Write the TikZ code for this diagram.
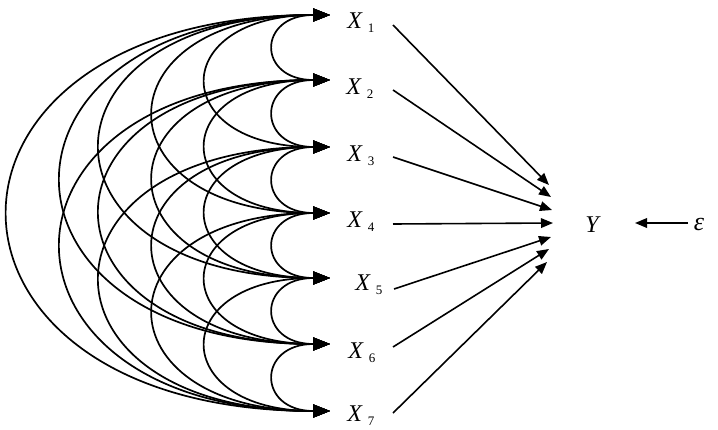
\documentclass[tikz,border=0pt]{standalone}
\usepackage{fontspec}
\setmainfont{Liberation Serif}
\usetikzlibrary{arrows.meta}
\tikzset{
  arcline/.style={line width=0.85pt, {Triangle[length=8.5pt,width=6.5pt]}-{Triangle[length=8.5pt,width=6.5pt]}},
  toY/.style={line width=0.8pt, -{Triangle[length=6pt,width=4.8pt]}},
  lbl/.style={inner sep=0pt, anchor=base west, font=\fontsize{12}{14}\selectfont},
}
\newcommand{\xlab}[1]{\textit{X}\hspace{2.5pt}\raisebox{-2.2pt}{\fontsize{6.5}{7}\selectfont #1}}
\begin{document}
\begin{tikzpicture}[x=0.5pt,y=-0.5pt]
\useasboundingbox (0,0) rectangle (718,429);
% ports at arrow tips
\foreach \n/\yy in {1/15,2/80,3/147,4/213,5/278,6/344,7/411}{
  \coordinate (p\n) at (330,\yy);
}
% labels
\node[lbl] (X1) at (347,28) {\xlab{1}};
\node[lbl] (X2) at (346,94) {\xlab{2}};
\node[lbl] (X3) at (347,161) {\xlab{3}};
\node[lbl] (X4) at (347,227) {\xlab{4}};
\node[lbl] (X5) at (355,290) {\xlab{5}};
\node[lbl] (X6) at (348,358) {\xlab{6}};
\node[lbl] (X7) at (347,421) {\xlab{7}};
\node[inner sep=0pt, font=\fontsize{12}{14}\selectfont] (Y) at (593,225) {\textit{Y}};
\node[inner sep=0pt, font=\fontsize{13}{14}\selectfont] (eps) at (699,224) {\textit{ε}};
% correlation arcs
\foreach \i in {1,...,6}{
  \pgfmathtruncatemacro\ip{\i+1}
  \foreach \j in {\ip,...,7}{
    \pgfmathsetmacro\kk{{0,73,163,233,304,356,427}[\j-\i]}
    \draw[arcline] (p\i) .. controls +(-\kk,0) and +(-\kk,0) .. (p\j);
  }
}
% paths to Y
\foreach \n/\sx/\sy/\tx/\ty in {1/393/25/549/185,2/393/90/551/197,3/393/157/552/210,4/393/224/553/223,5/394/289/551/237,6/393/347/549/249,7/393/413/547/262}{
  \coordinate (s\n) at (\sx,\sy);
  \coordinate (t\n) at (\tx,\ty);
  \draw[toY] (s\n) -- (t\n);
}
\coordinate (epsTail) at (688,223);
\coordinate (epsTip) at (635,223);
\draw[toY] (epsTail) -- (epsTip);
\end{tikzpicture}
\end{document}
